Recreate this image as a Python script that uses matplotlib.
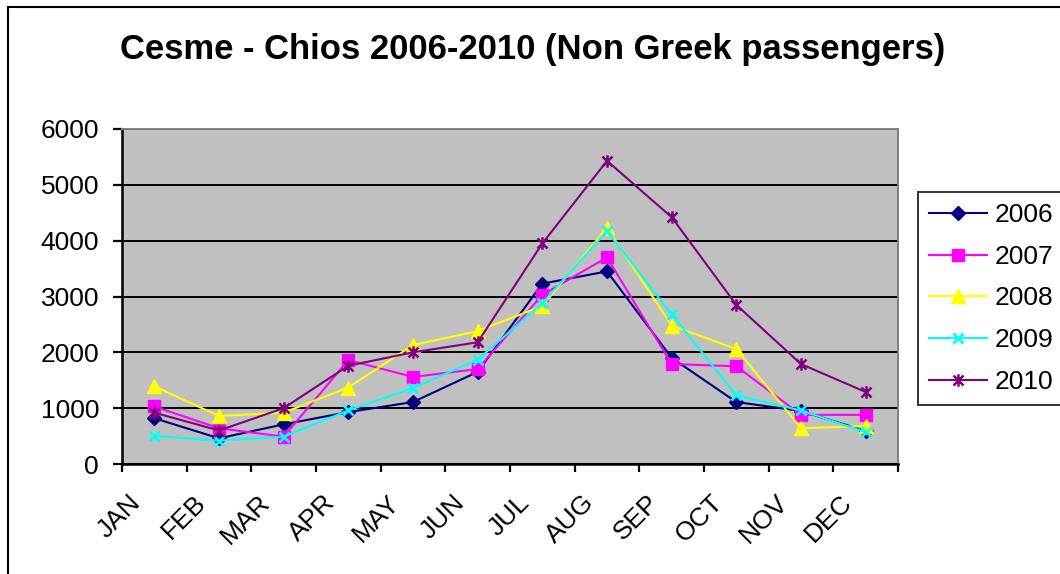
import numpy as np
import matplotlib
matplotlib.use("Agg")
import matplotlib.pyplot as plt
from matplotlib.path import Path
from matplotlib.patches import Rectangle
from matplotlib.transforms import ScaledTranslation

# ---- data -------------------------------------------------------------
months = ["JAN", "FEB", "MAR", "APR", "MAY", "JUN",
          "JUL", "AUG", "SEP", "OCT", "NOV", "DEC"]
years = ["2006", "2007", "2008", "2009", "2010"]

pax_2006 = [820, 460, 710, 930, 1110, 1650, 3230, 3450, 1900, 1110, 950, 590]
pax_2007 = [1030, 640, 490, 1860, 1560, 1700, 3030, 3700, 1790, 1750, 880, 880]
pax_2008 = [1390, 860, 920, 1370, 2130, 2380, 2830, 4230, 2480, 2060, 640, 680]
pax_2009 = [500, 420, 490, 960, 1360, 1870, 2880, 4170, 2680, 1230, 960, 570]
pax_2010 = [920, 600, 1000, 1760, 2000, 2180, 3950, 5430, 4420, 2850, 1790, 1290]

yticks = [0, 1000, 2000, 3000, 4000, 5000, 6000]
title = "Cesme - Chios 2006-2010 (Non Greek passengers)"

# ---- styling ----------------------------------------------------------
plt.rcParams["font.family"] = ["Liberation Sans", "DejaVu Sans"]

W, H, DPI = 1060, 574, 100
fig = plt.figure(figsize=(W / DPI, H / DPI), dpi=DPI)
fig.patch.set_facecolor("white")

# plot area in pixel terms
left, right, top, bottom = 122, 898, 129, 464
ax = fig.add_axes([left / W, 1 - bottom / H, (right - left) / W, (bottom - top) / H])
ax.set_facecolor("#C0C0C0")

# six-armed asterisk: an X plus a vertical bar
star = Path([(-1, -1), (1, 1), (-1, 1), (1, -1), (0, -1.25), (0, 1.25)],
            [Path.MOVETO, Path.LINETO, Path.MOVETO, Path.LINETO,
             Path.MOVETO, Path.LINETO])

series = [
    (pax_2006, "#000080", "D", 7.0, 1.0),
    (pax_2007, "#FF00FF", "s", 8.5, 1.0),
    (pax_2008, "#FFFF00", "^", 10.0, 1.0),
    (pax_2009, "#00FFFF", "x", 7.5, 1.9),
    (pax_2010, "#800080", star, 9.0, 1.8),
]

x = np.arange(len(months))
for (vals, color, marker, ms, mew), label in zip(series, years):
    ax.plot(x, vals, color=color, lw=1.5, marker=marker, markersize=ms,
            markerfacecolor=color, markeredgecolor=color, markeredgewidth=mew,
            label=label, zorder=3, clip_on=False)

# axes limits / grid
ax.set_xlim(-0.5, len(months) - 0.5)
ax.set_ylim(0, 6000)
ax.set_yticks(yticks)
ax.set_yticklabels([str(v) for v in yticks])
ax.yaxis.grid(True, color="black", lw=1.4, zorder=1)
ax.set_axisbelow(True)

for side in ("left", "bottom"):
    ax.spines[side].set_color("black")
    ax.spines[side].set_linewidth(1.8)
for side in ("top", "right"):
    ax.spines[side].set_color("#808080")
    ax.spines[side].set_linewidth(1.4)

ax.tick_params(axis="y", direction="out", length=6.5, width=1.6,
               labelsize=19, pad=10, colors="black")

# category boundaries as minor ticks, month names at category centres
ax.set_xticks(np.arange(-0.5, len(months), 1.0), minor=True)
ax.set_xticks(x)
ax.set_xticklabels(months, rotation=45, ha="right", va="center",
                   rotation_mode="anchor", fontsize=19)
ax.tick_params(axis="x", which="major", length=0, pad=25)
ax.tick_params(axis="x", which="minor", direction="out", length=5.5, width=1.6)
shift = ScaledTranslation(-17 / DPI, 0, fig.dpi_scale_trans)
for lab in ax.get_xticklabels():
    lab.set_transform(lab.get_transform() + shift)

# title
fig.text(533 / W, 1 - 50 / H, title, ha="center", va="center",
         fontsize=24.9, fontweight="bold")

# legend
leg = ax.legend(loc="upper left", bbox_to_anchor=(918 / W, 1 - 192 / H),
                bbox_transform=fig.transFigure, borderaxespad=0,
                fontsize=19, frameon=True, fancybox=False, numpoints=1,
                handlelength=2.2, handletextpad=0.28, labelspacing=0.67,
                borderpad=0.42)
leg.get_frame().set_edgecolor("black")
leg.get_frame().set_linewidth(1.4)
leg.get_frame().set_facecolor("white")

# chart-area border
fig.add_artist(Rectangle((8 / W, -0.1), 1.2, 1 - 7 / H + 0.1,
                         transform=fig.transFigure, fill=False,
                         edgecolor="black", lw=1.5, clip_on=False))

fig.savefig("out.png", dpi=DPI)
